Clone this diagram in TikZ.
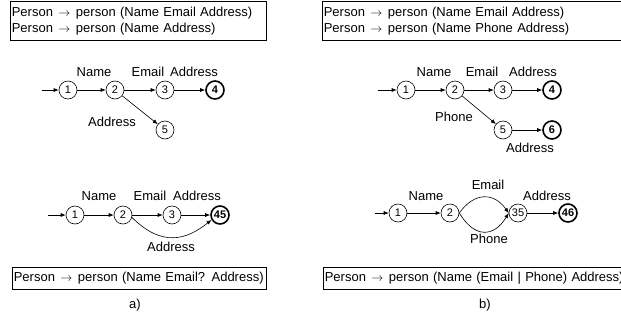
\documentclass[tikz,border=0pt]{standalone}
\usepackage{fontspec}
\setmainfont{Liberation Sans}
\usetikzlibrary{arrows.meta, positioning}
\newcommand{\ruleto}{\hspace{5pt}\makebox[13pt]{$\rightarrow$}\hspace{5pt}}
\tikzset{
  stnode/.style={circle, draw, line width=0.6pt, minimum size=18pt, inner sep=0pt,
    font=\fontsize{11}{13}\selectfont},
  finnode/.style={stnode, line width=1.6pt, font=\fontsize{11}{13}\selectfont\bfseries},
  lbl/.style={inner sep=0pt, font=\fontsize{13}{15}\selectfont},
  rulebox/.style={draw, line width=0.6pt, rectangle, anchor=north west, inner xsep=1.5pt,
    inner ysep=0pt, align=left, font=\fontsize{13}{16}\selectfont},
  trans/.style={-{Latex[length=5pt,width=4pt]}, line width=0.6pt}
}
\begin{document}
\begin{tikzpicture}[x=1pt, y=-1pt]
  \useasboundingbox (0,0) rectangle (621,327);
  % a) rules
  \node[rulebox, text width=253pt, minimum height=39pt] (ruleA) at (10,1)
        {\mbox{Person\ruleto person (Name Email Address)}\\\mbox{Person\ruleto person (Name Address)}};
  % a) first automaton
  \coordinate (sA) at (42,90);
  \node[stnode]  (a1) at (68,90)   {1};
  \node[stnode]  (a2) at (115,90)  {2};
  \node[stnode]  (a3) at (165,90)  {3};
  \node[finnode] (a4) at (215,90)  {4};
  \node[stnode]  (a5) at (165,130) {5};
  \node[lbl] (aName)  at (94,72)   {Name};
  \node[lbl] (aEmail) at (148,72)  {Email};
  \node[lbl] (aAddr)  at (194,72)  {Address};
  \node[lbl] (aAddr2) at (112,122) {Address};
  \draw[trans] (sA) -- (a1);
  \draw[trans] (a1) -- (a2);
  \draw[trans] (a2) -- (a3);
  \draw[trans] (a3) -- (a4);
  \draw[trans] (a2) -- (a5);
  % a) merged automaton
  \coordinate (sB) at (48,215);
  \node[stnode]  (b1)  at (75,215)  {1};
  \node[stnode]  (b2)  at (123,215) {2};
  \node[stnode]  (b3)  at (172,215) {3};
  \node[finnode] (b45) at (220,215) {45};
  \node[lbl] (bName)  at (99,196)  {Name};
  \node[lbl] (bEmail) at (150,196) {Email};
  \node[lbl] (bAddr)  at (197,196) {Address};
  \node[lbl] (bAddr2) at (171,247) {Address};
  \draw[trans] (sB) -- (b1);
  \draw[trans] (b1) -- (b2);
  \draw[trans] (b2) -- (b3);
  \draw[trans] (b3) -- (b45);
  \draw[trans] (b2.-15) .. controls +(30,30) and +(-25,20) .. (b45.210);
  \node[rulebox, text width=251pt, minimum height=22pt] (infA) at (12,267)
        {\mbox{Person\ruleto person (Name Email? Address)}};
  \node[lbl] (capA) at (135,305) {a)};
  % b) rules
  \node[rulebox, text width=316pt, minimum height=39pt] (ruleB) at (322,1)
        {\mbox{Person\ruleto person (Name Email Address)}\\\mbox{Person\ruleto person (Name Phone Address)}};
  % b) first automaton
  \coordinate (sC) at (378,90);
  \node[stnode]  (c1) at (406,90)  {1};
  \node[stnode]  (c2) at (455,90)  {2};
  \node[stnode]  (c3) at (503,90)  {3};
  \node[finnode] (c4) at (552,90)  {4};
  \node[stnode]  (c5) at (503,130) {5};
  \node[finnode] (c6) at (552,130) {6};
  \node[lbl] (cName)  at (434,72)  {Name};
  \node[lbl] (cEmail) at (482,72)  {Email};
  \node[lbl] (cAddr)  at (533,72)  {Address};
  \node[lbl] (cPhone) at (454,117) {Phone};
  \node[lbl] (cAddr2) at (530,148) {Address};
  \draw[trans] (sC) -- (c1);
  \draw[trans] (c1) -- (c2);
  \draw[trans] (c2) -- (c3);
  \draw[trans] (c3) -- (c4);
  \draw[trans] (c2) -- (c5);
  \draw[trans] (c5) -- (c6);
  % b) merged automaton
  \coordinate (sD) at (375,213);
  \node[stnode]  (d1)  at (398,213) {1};
  \node[stnode]  (d2)  at (450,213) {2};
  \node[stnode]  (d35) at (518,213) {35};
  \node[finnode] (d46) at (568,213) {46};
  \node[lbl] (dName)  at (426,196) {Name};
  \node[lbl] (dEmail) at (488,185) {Email};
  \node[lbl] (dAddr)  at (547,196) {Address};
  \node[lbl] (dPhone) at (489,239) {Phone};
  \draw[trans] (sD) -- (d1);
  \draw[trans] (d1) -- (d2);
  \draw[trans] (d2.east) .. controls +(15,-21) and +(-15,-21) .. (d35.west);
  \draw[trans] (d2.east) .. controls +(15,25) and +(-15,25) .. (d35.west);
  \draw[trans] (d35) -- (d46);
  \node[rulebox, text width=316pt, minimum height=22pt] (infB) at (323,267)
        {\mbox{Person\ruleto person (Name (Email | Phone) Address)}};
  \node[lbl] (capB) at (485,305) {b)};
\end{tikzpicture}
\end{document}
